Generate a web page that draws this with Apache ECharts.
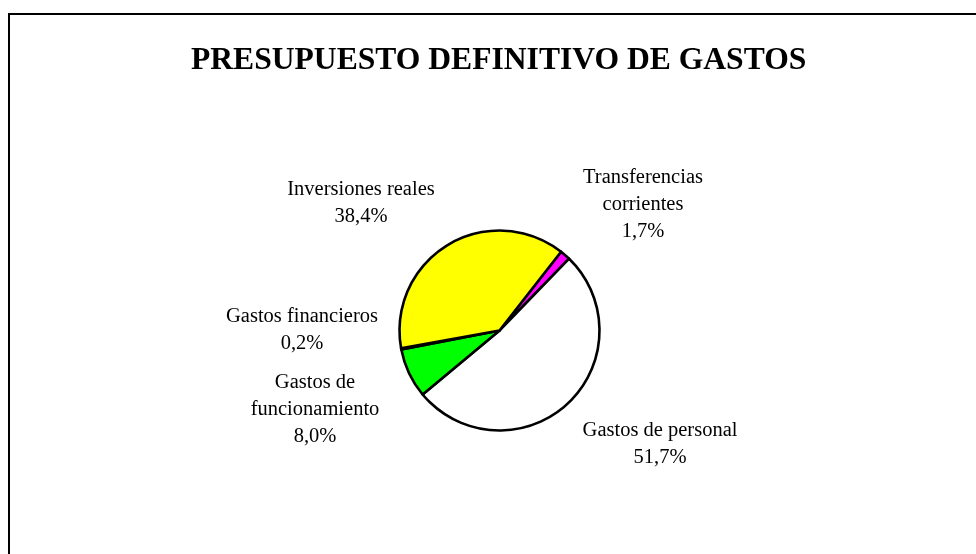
<!DOCTYPE html>
<html>
<head>
    <meta charset="UTF-8">
    <title>presupuesto</title>
    <script src="https://cdn.jsdelivr.net/npm/echarts@6/dist/echarts.min.js"></script>
    <style>
        html, body { margin: 0; padding: 0; background: #fff; }
        #chart { width: 976px; height: 554px; }
    </style>
</head>
<body>
<div id="chart"></div>
<script type="text/javascript">
    // datos del grafico
    var categories = ['Transferencias\ncorrientes', 'Gastos de personal', 'Gastos de\nfuncionamiento', 'Gastos financieros', 'Inversiones reales'];
    var values = [1.7, 51.7, 8.0, 0.2, 38.4];
    var colors = ['#ff00ff', '#ffffff', '#00ff00', '#000080', '#ffff00'];

    // posicion de cada etiqueta (centro del texto)
    var labelPos = [[643, 205], [660, 444], [315, 410], [302, 330], [361, 203]];

    var pieData = [];
    for (var i = 0; i < categories.length; i++) {
        pieData.push({name: categories[i], value: values[i], itemStyle: {color: colors[i]}});
    }

    var myChart = echarts.init(document.getElementById('chart'));
    var option = {
        backgroundColor: '#ffffff',
        animation: false,
        title: {
            text: 'PRESUPUESTO DEFINITIVO DE GASTOS',
            left: 191,
            top: 45,
            padding: 0,
            textStyle: {
                fontFamily: 'Liberation Serif',
                fontWeight: 'bold',
                fontSize: 31.6,
                color: '#000'
            }
        },
        graphic: [{
            type: 'rect',
            shape: {x: 9, y: 14, width: 1000, height: 600},
            style: {fill: 'none', stroke: '#000', lineWidth: 2}
        }],
        series: [{
            type: 'pie',
            center: [499.5, 330.5],
            radius: 100,
            startAngle: 52,
            clockwise: true,
            avoidLabelOverlap: false,
            data: pieData,
            itemStyle: {borderColor: '#000', borderWidth: 2.6},
            emphasis: {disabled: true},
            label: {
                show: true,
                position: 'outside',
                fontFamily: 'Liberation Serif',
                fontSize: 20.5,
                lineHeight: 27,
                color: '#000',
                align: 'center',
                formatter: function (p) {
                    return p.name + '\n' + p.value.toFixed(1).replace('.', ',') + '%';
                }
            },
            labelLine: {show: false},
            labelLayout: function (params) {
                var p = labelPos[params.dataIndex];
                return {x: p[0], y: p[1], align: 'center', verticalAlign: 'middle'};
            }
        }]
    };
    myChart.setOption(option);
</script>
</body>
</html>
